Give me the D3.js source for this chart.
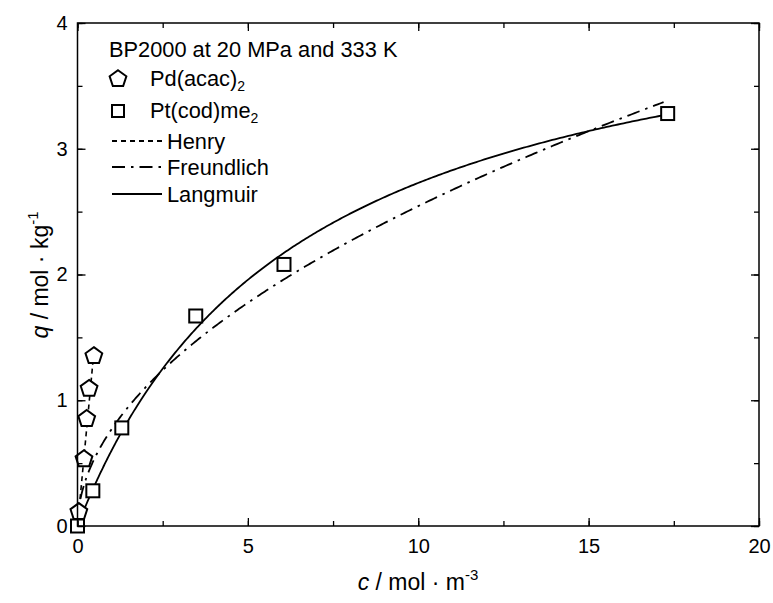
<!DOCTYPE html>
<html><head><meta charset="utf-8">
<script src="https://cdn.jsdelivr.net/npm/d3@7"></script>
<style>body{margin:0;background:#fff}svg{display:block}text{font-family:"Liberation Sans",Arial,sans-serif;fill:#000}</style>
</head><body><svg id="c" width="773" height="603"></svg>
<script>
// Data
const pdC = [0.04, 0.19, 0.27, 0.34, 0.48];
const pdQ = [0.12, 0.54, 0.86, 1.10, 1.36];
const ptC = [0.0, 0.45, 1.30, 3.47, 6.06, 17.32];
const ptQ = [0.0, 0.28, 0.78, 1.67, 2.08, 3.28];
// Fit parameters
const henryH = 2.88, henryCmax = 0.48;
const freundK = 0.77, freundN = 0.519, freundCmax = 17.2;
const langQm = 4.5, langK = 0.154, langCmax = 17.3;
const xTicks = [0, 5, 10, 15, 20];
const yTicks = [0, 1, 2, 3, 4];

const svg = d3.select("#c");
const m = {l: 77.5, r: 759, t: 23, b: 526};
const x = d3.scaleLinear().domain([0, 20]).range([m.l, m.r]);
const y = d3.scaleLinear().domain([0, 4]).range([m.b, m.t]);
const LF = 21.8, TF = 20, AF = 23;

// curves
function sample(f, cmax, n) {
  const pts = [];
  for (let i = 0; i <= n; i++) { const c = cmax * Math.pow(i / n, 2); pts.push([c, f(c)]); }
  return pts;
}
const line = d3.line().x(d => x(d[0])).y(d => y(d[1]));
const g = svg.append("g");
g.append("path").attr("d", line(sample(c => henryH * c, henryCmax, 20)))
  .attr("fill", "none").attr("stroke", "#000").attr("stroke-width", 1.6).attr("stroke-dasharray", "5,4");
g.append("path").attr("d", line(sample(c => freundK * Math.pow(c, freundN), freundCmax, 400)))
  .attr("fill", "none").attr("stroke", "#000").attr("stroke-width", 1.8).attr("stroke-dasharray", "13,6,2.5,6");
g.append("path").attr("d", line(sample(c => langQm * langK * c / (1 + langK * c), langCmax, 400)))
  .attr("fill", "none").attr("stroke", "#000").attr("stroke-width", 1.8);

// markers
function pentagon(cx, cy, r) {
  const p = [];
  for (let i = 0; i < 5; i++) { const a = -Math.PI / 2 + i * 2 * Math.PI / 5; p.push([cx + r * Math.cos(a), cy + r * Math.sin(a)]); }
  return "M" + p.map(d => d.join(",")).join("L") + "Z";
}
const pd = pdC.map((c, i) => ({c, q: pdQ[i]}));
const pt = ptC.map((c, i) => ({c, q: ptQ[i]}));
g.selectAll(".pd").data(pd).enter().append("path")
  .attr("d", d => pentagon(x(d.c), y(d.q) + 1, 8.8))
  .attr("fill", "#fff").attr("stroke", "#000").attr("stroke-width", 2);
g.selectAll(".pt").data(pt).enter().append("rect")
  .attr("x", d => x(d.c) - 6.5).attr("y", d => y(d.q) - 6.5).attr("width", 13).attr("height", 13)
  .attr("fill", "#fff").attr("stroke", "#000").attr("stroke-width", 2);

// frame
svg.append("rect").attr("x", m.l).attr("y", m.t).attr("width", m.r - m.l).attr("height", m.b - m.t)
  .attr("fill", "none").attr("stroke", "#000").attr("stroke-width", 1.5);

// axes with inward ticks
const xMinor = d3.range(0, 20.01, 2.5), yMinor = d3.range(0, 4.01, 0.5);
function clean(a) { a.select(".domain").remove(); a.selectAll("line").attr("stroke-width", 1.3); }
svg.append("g").attr("transform", `translate(0,${m.b})`)
  .call(d3.axisBottom(x).tickValues(xMinor).tickSize(-5).tickFormat("")).call(clean);
svg.append("g").attr("transform", `translate(0,${m.b})`)
  .call(d3.axisBottom(x).tickValues(xTicks).tickSize(-8).tickFormat(d3.format("d"))).call(clean)
  .call(a => a.selectAll("text").attr("font-size", TF).attr("font-family", "Liberation Sans, Arial").attr("dy", "0.71em").attr("y", 13));
svg.append("g").attr("transform", `translate(0,${m.t})`)
  .call(d3.axisTop(x).tickValues(xMinor).tickSize(-5).tickFormat("")).call(clean);
svg.append("g").attr("transform", `translate(0,${m.t})`)
  .call(d3.axisTop(x).tickValues(xTicks).tickSize(-8).tickFormat("")).call(clean);
svg.append("g").attr("transform", `translate(${m.l},0)`)
  .call(d3.axisLeft(y).tickValues(yMinor).tickSize(-5).tickFormat("")).call(clean);
svg.append("g").attr("transform", `translate(${m.l},0)`)
  .call(d3.axisLeft(y).tickValues(yTicks).tickSize(-8).tickFormat(d3.format("d"))).call(clean)
  .call(a => a.selectAll("text").attr("font-size", TF).attr("font-family", "Liberation Sans, Arial").attr("x", -10));
svg.append("g").attr("transform", `translate(${m.r},0)`)
  .call(d3.axisRight(y).tickValues(yMinor).tickSize(-5).tickFormat("")).call(clean);
svg.append("g").attr("transform", `translate(${m.r},0)`)
  .call(d3.axisRight(y).tickValues(yTicks).tickSize(-8).tickFormat("")).call(clean);

// axis titles
const xt = svg.append("text").attr("x", 418).attr("y", 590).attr("text-anchor", "middle").attr("font-size", AF);
xt.append("tspan").attr("font-style", "italic").text("c");
xt.append("tspan").text(" / mol · m");
xt.append("tspan").attr("font-size", 15).attr("dy", -10).text("-3");
const yt = svg.append("text").attr("transform", "translate(48,275) rotate(-90)").attr("text-anchor", "middle").attr("font-size", AF);
yt.append("tspan").attr("font-style", "italic").text("q");
yt.append("tspan").text(" / mol · kg");
yt.append("tspan").attr("font-size", 15).attr("dy", -10).text("-1");

// legend
const L = svg.append("g");
L.append("text").attr("x", 109).attr("y", 57).attr("font-size", LF).text("BP2000 at 20 MPa and 333 K");
L.append("path").attr("d", pentagon(118, 79, 8.8)).attr("fill", "#fff").attr("stroke", "#000").attr("stroke-width", 2);
const t1 = L.append("text").attr("x", 150).attr("y", 86).attr("font-size", LF);
t1.append("tspan").text("Pd(acac)");
t1.append("tspan").attr("font-size", 14).attr("dy", 5).text("2");
L.append("rect").attr("x", 112).attr("y", 105).attr("width", 12).attr("height", 12).attr("fill", "#fff").attr("stroke", "#000").attr("stroke-width", 2);
const t2 = L.append("text").attr("x", 150).attr("y", 118).attr("font-size", LF);
t2.append("tspan").text("Pt(cod)me");
t2.append("tspan").attr("font-size", 14).attr("dy", 5).text("2");
const legLines = [["Henry", "5,4", 141], ["Freundlich", "13,6,2.5,6", 167], ["Langmuir", null, 194]];
legLines.forEach(([name, dash, yy]) => {
  const ln = L.append("line").attr("x1", 112).attr("x2", 162).attr("y1", yy).attr("y2", yy).attr("stroke", "#000").attr("stroke-width", 1.8);
  if (dash) ln.attr("stroke-dasharray", dash);
  L.append("text").attr("x", 167).attr("y", yy + 7.5).attr("font-size", LF).text(name);
});
</script></body></html>
